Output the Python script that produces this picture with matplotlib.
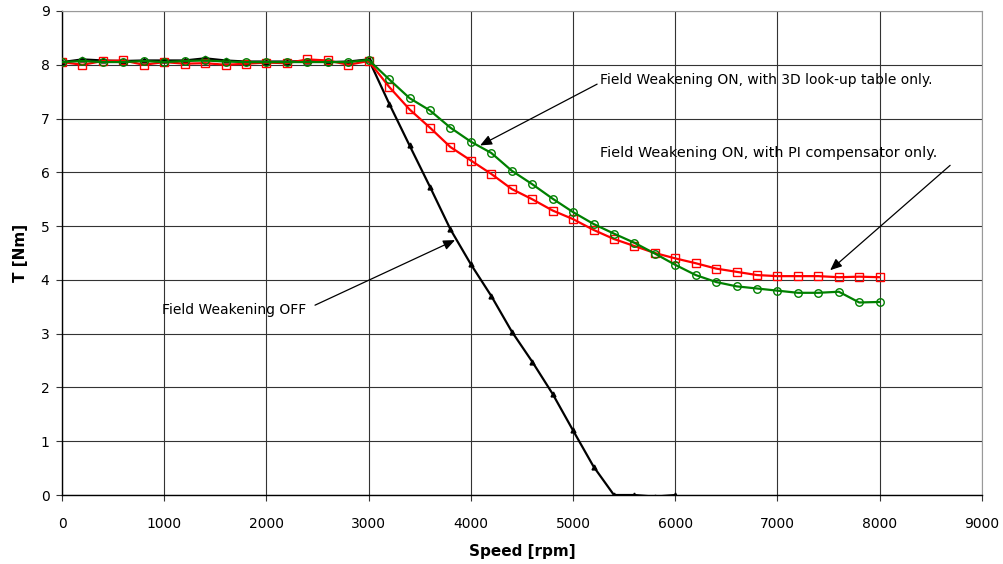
import numpy as np
import matplotlib; matplotlib.use("Agg")
import matplotlib.pyplot as plt

plt.rcParams.update({"font.family": "sans-serif", "font.sans-serif": ["DejaVu Sans"]})

# ---- data (speed in rpm, torque in Nm) ----
speed = list(range(0, 8001, 200))
speed_off = list(range(0, 6001, 200))

t_off = [8.05, 8.10, 8.08, 8.07, 8.08, 8.08, 8.08, 8.12, 8.08, 8.06, 8.06, 8.06, 8.07, 8.05, 8.06, 8.10,
         7.28, 6.50, 5.73, 4.94, 4.29, 3.70, 3.04, 2.48, 1.88, 1.20, 0.53, 0.00, 0.00, -0.03, 0.00]
t_pi = [8.05, 8.00, 8.07, 8.08, 8.00, 8.05, 8.02, 8.03, 8.00, 8.02, 8.04, 8.03, 8.10, 8.08, 8.00, 8.07,
        7.59, 7.17, 6.83, 6.47, 6.22, 5.97, 5.69, 5.50, 5.29, 5.13, 4.93, 4.76, 4.63, 4.50, 4.40, 4.31,
        4.21, 4.15, 4.09, 4.07, 4.07, 4.07, 4.05, 4.06, 4.05]
t_lut = [8.05, 8.07, 8.05, 8.05, 8.07, 8.05, 8.07, 8.08, 8.06, 8.05, 8.05, 8.05, 8.05, 8.05, 8.05, 8.09,
         7.73, 7.38, 7.15, 6.83, 6.57, 6.36, 6.03, 5.78, 5.51, 5.26, 5.04, 4.86, 4.69, 4.49, 4.28, 4.09,
         3.96, 3.88, 3.84, 3.80, 3.76, 3.76, 3.78, 3.58, 3.59]

fig = plt.figure(figsize=(10.04, 5.64), dpi=100)
ax = fig.add_axes([0.0618, 0.1223, 0.9162, 0.8582])

ax.plot(speed_off, t_off, color="black", lw=1.6, marker="^", ms=3.5, mfc="black", mec="black", zorder=3)
ax.plot(speed, t_pi, color="#ff0000", lw=1.6, marker="s", ms=5.2, mfc="none", mec="#ff0000", mew=1, zorder=4)
ax.plot(speed, t_lut, color="#008000", lw=1.6, marker="o", ms=5.4, mfc="none", mec="#008000", mew=1, zorder=5)

ax.set_xlim(0, 9000); ax.set_ylim(0, 9)
ax.set_xticks(np.arange(0, 9001, 1000)); ax.set_yticks(np.arange(0, 10, 1))
ax.grid(True, color="#333333", lw=0.8)
ax.set_axisbelow(True)
ax.tick_params(direction="out", length=4, width=0.8, labelsize=10, color="#333333")
ax.tick_params(axis="x", pad=12)
ax.tick_params(axis="y", pad=5)
ax.spines[["top", "right"]].set_color("#999999")
ax.spines[["left", "bottom"]].set_linewidth(1.0)
ax.set_xlabel("Speed [rpm]", fontsize=11, fontweight="bold", labelpad=9)
ax.set_ylabel("T [Nm]", fontsize=11, fontweight="bold", labelpad=9)

# annotation texts and their leader arrows (tail -> tip)
arr = dict(arrowstyle="-|>,head_length=0.7,head_width=0.3", color="black", lw=0.9, shrinkA=0, shrinkB=0)
ax.text(5265, 7.72, "Field Weakening ON, with 3D look-up table only.", fontsize=10, va="center", ha="left")
ax.annotate("", xy=(4090, 6.5), xytext=(5235, 7.64), arrowprops=arr)
ax.text(5265, 6.36, "Field Weakening ON, with PI compensator only.", fontsize=10.4, va="center", ha="left")
ax.annotate("", xy=(7515, 4.18), xytext=(8689, 6.13), arrowprops=arr)
ax.text(980, 3.44, "Field Weakening OFF", fontsize=10, va="center", ha="left")
ax.annotate("", xy=(3845, 4.74), xytext=(2475, 3.53), arrowprops=arr)

fig.savefig("out.png", dpi=100, facecolor="white")
